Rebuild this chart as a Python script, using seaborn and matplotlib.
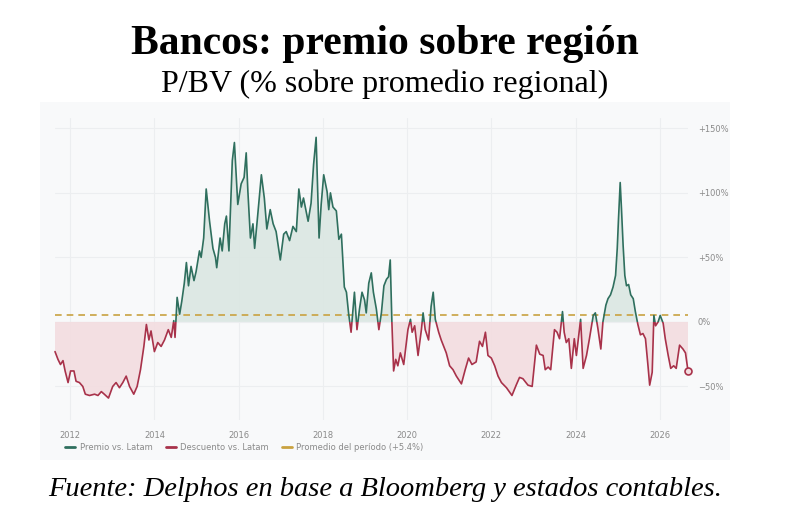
import numpy as np
import pandas as pd
import matplotlib
matplotlib.use('Agg')
import matplotlib.pyplot as plt
import seaborn as sns
from matplotlib.patches import Rectangle
from matplotlib.lines import Line2D

# datos (año decimal, prima % sobre promedio regional)
years = [2011.64, 2011.71, 2011.77, 2011.83, 2011.88, 2011.95, 2012.01, 2012.09, 2012.14, 2012.22,
         2012.30, 2012.36, 2012.46, 2012.58, 2012.66, 2012.74, 2012.81, 2012.91, 2013.01, 2013.09,
         2013.17, 2013.25, 2013.33, 2013.41, 2013.51, 2013.59, 2013.67, 2013.75, 2013.81, 2013.87,
         2013.92, 2014.00, 2014.08, 2014.16, 2014.24, 2014.33, 2014.40, 2014.46, 2014.49, 2014.54,
         2014.60, 2014.65, 2014.71, 2014.76, 2014.81, 2014.87, 2014.94, 2014.99, 2015.07, 2015.11,
         2015.17, 2015.23, 2015.31, 2015.39, 2015.45, 2015.48, 2015.56, 2015.61, 2015.67, 2015.71,
         2015.77, 2015.85, 2015.90, 2015.98, 2016.06, 2016.13, 2016.18, 2016.22, 2016.28, 2016.34,
         2016.38, 2016.44, 2016.54, 2016.61, 2016.67, 2016.75, 2016.82, 2016.89, 2016.99, 2017.07,
         2017.13, 2017.21, 2017.29, 2017.37, 2017.43, 2017.49, 2017.54, 2017.65, 2017.72, 2017.78,
         2017.84, 2017.91, 2017.96, 2018.02, 2018.10, 2018.14, 2018.18, 2018.24, 2018.32, 2018.38,
         2018.44, 2018.51, 2018.56, 2018.61, 2018.67, 2018.75, 2018.81, 2018.87, 2018.93, 2018.99,
         2019.03, 2019.09, 2019.15, 2019.20, 2019.27, 2019.33, 2019.39, 2019.45, 2019.51, 2019.56,
         2019.60, 2019.64, 2019.68, 2019.73, 2019.78, 2019.84, 2019.92, 2020.02, 2020.08, 2020.12,
         2020.18, 2020.26, 2020.34, 2020.38, 2020.43, 2020.51, 2020.57, 2020.62, 2020.67, 2020.75,
         2020.81, 2020.93, 2021.01, 2021.09, 2021.17, 2021.29, 2021.38, 2021.46, 2021.54, 2021.64,
         2021.72, 2021.79, 2021.86, 2021.92, 2022.00, 2022.08, 2022.16, 2022.24, 2022.36, 2022.49,
         2022.59, 2022.67, 2022.75, 2022.87, 2022.97, 2023.07, 2023.15, 2023.23, 2023.28, 2023.35,
         2023.41, 2023.50, 2023.56, 2023.62, 2023.69, 2023.73, 2023.78, 2023.84, 2023.90, 2023.97,
         2024.02, 2024.12, 2024.18, 2024.26, 2024.33, 2024.42, 2024.47, 2024.53, 2024.60, 2024.65,
         2024.72, 2024.77, 2024.83, 2024.89, 2024.95, 2024.99, 2025.02, 2025.06, 2025.09, 2025.13,
         2025.17, 2025.21, 2025.26, 2025.31, 2025.37, 2025.42, 2025.48, 2025.54, 2025.60, 2025.66,
         2025.72, 2025.76, 2025.82, 2025.86, 2025.90, 2025.96, 2026.01, 2026.08, 2026.13, 2026.20,
         2026.26, 2026.33, 2026.39, 2026.47, 2026.55, 2026.61, 2026.67]
premio = [-23, -29, -33, -30, -38, -47, -38, -38, -46, -47,
          -50, -56, -57, -56, -57, -54, -56, -59, -50, -47,
          -51, -47, -42, -50, -56, -50, -37, -19, -2, -14,
          -7, -23, -16, -19, -14, -6, -12, 1, -12, 19,
          6, 16, 30, 46, 28, 43, 32, 39, 55, 50,
          65, 103, 78, 57, 50, 42, 65, 55, 76, 82,
          55, 125, 139, 91, 107, 112, 131, 101, 65, 76,
          57, 78, 114, 96, 72, 87, 76, 70, 48, 68,
          70, 63, 74, 70, 103, 89, 96, 78, 92, 122,
          143, 65, 91, 114, 101, 87, 100, 89, 86, 64,
          68, 27, 23, 7, -8, 23, -6, 10, 23, 17,
          7, 30, 38, 23, 10, -6, 7, 28, 33, 35,
          48, -1, -38, -29, -34, -24, -33, -6, 2, -8,
          -3, -26, -6, 7, -6, -14, 12, 23, 2, -8,
          -14, -24, -34, -37, -42, -48, -37, -28, -33, -31,
          -15, -19, -8, -26, -28, -34, -42, -47, -51, -57,
          -49, -43, -44, -49, -50, -18, -25, -26, -37, -35,
          -37, -6, -8, -13, 8, -8, -16, -13, -36, -13,
          -26, 2, -36, -26, -13, 5, 7, -5, -21, 0,
          13, 18, 21, 27, 36, 57, 80, 108, 88, 59,
          36, 28, 29, 21, 18, 8, -2, -10, -9, -13,
          -34, -49, -39, 5, -3, 0, 5, -1, -13, -26,
          -36, -34, -36, -18, -21, -24, -38]
promedio = 5.4

series_labels = ['Premio vs. Latam', 'Descuento vs. Latam', 'Promedio del período (+5.4%)']
year_ticks = [2012, 2014, 2016, 2018, 2020, 2022, 2024, 2026]
pct_ticks = [150, 100, 50, 0, -50]
pct_labels = ['+150%', '+100%', '+50%', '0%', '−50%']

VERDE = '#2f6f5e'
VERDE_FILL = '#dbe7e2'
ROJO = '#a8324a'
ROJO_FILL = '#f3dde0'
DORADO = '#c9a240'
FONDO = '#f8f9fa'

sns.set_theme(style='white')
plt.rcParams['font.family'] = ['DejaVu Sans']

df = pd.DataFrame({'year': years, 'premio': premio})
x = df['year'].to_numpy()
y = df['premio'].to_numpy(dtype=float)

fig = plt.figure(figsize=(8, 5.19), dpi=100)
fondo = Rectangle((40 / 800, 1 - 460 / 519), 690 / 800, 358 / 519,
                  transform=fig.transFigure, facecolor=FONDO, edgecolor='none', zorder=-10)
fig.patches.append(fondo)

ax = fig.add_axes([55 / 800, 1 - 420 / 519, 633 / 800, 302 / 519])
ax.set_facecolor('none')
ax.set_xlim(x[0], x[-1])
ax.set_ylim(-76, 158)

# rellenos
ax.fill_between(x, 0, y, where=y >= 0, interpolate=True, color=VERDE_FILL, alpha=0.9, lw=0, zorder=1)
ax.fill_between(x, 0, y, where=y <= 0, interpolate=True, color=ROJO_FILL, alpha=0.9, lw=0, zorder=1)

# línea coloreada según signo (recorte arriba/abajo de 0)
sns.lineplot(data=df, x='year', y='premio', ax=ax, color=VERDE, lw=1.2, zorder=3)
sns.lineplot(data=df, x='year', y='premio', ax=ax, color=ROJO, lw=1.2, zorder=3)
arriba = Rectangle((x[0] - 1, 0), 30, 300, transform=ax.transData)
abajo = Rectangle((x[0] - 1, -300), 30, 300, transform=ax.transData)
ax.lines[0].set_clip_path(arriba)
ax.lines[1].set_clip_path(abajo)

ax.plot(x[-1], y[-1], 'o', ms=5, mfc=ROJO_FILL, mec=ROJO, mew=1.2, zorder=4, clip_on=False)
ax.axhline(promedio, color=DORADO, ls=(0, (4, 3)), lw=1.2, zorder=2)

ax.set_xticks(year_ticks)
ax.set_xticklabels([str(t) for t in year_ticks])
ax.set_yticks(pct_ticks)
ax.set_yticklabels(pct_labels)
ax.yaxis.tick_right()
ax.tick_params(axis='both', length=0, labelsize=6, colors='#8a8a8a')
ax.tick_params(axis='y', pad=7)
ax.tick_params(axis='x', pad=8)
ax.grid(True, color='#eceef0', lw=0.8)
ax.set_axisbelow(True)
for s in ax.spines.values():
    s.set_visible(False)
ax.set_xlabel('')
ax.set_ylabel('')

handles = [Line2D([], [], color=VERDE, lw=2),
           Line2D([], [], color=ROJO, lw=2),
           Line2D([], [], color=DORADO, lw=2)]
fig.legend(handles, series_labels, loc='center left', bbox_to_anchor=(58 / 800, 1 - 447 / 519),
           ncol=3, frameon=False, fontsize=6, labelcolor='#8a8a8a', handlelength=1.2,
           handletextpad=0.5, columnspacing=1.6)

fig.text(0.481, 1 - 44 / 519, 'Bancos: premio sobre región', ha='center', va='center',
         family='Liberation Serif', weight='bold', fontsize=30, color='black')
fig.text(0.481, 1 - 84 / 519, 'P/BV (% sobre promedio regional)', ha='center', va='center',
         family='Liberation Serif', fontsize=23, color='black')
fig.text(0.481, 1 - 489 / 519, 'Fuente: Delphos en base a Bloomberg y estados contables.',
         ha='center', va='center', family='Liberation Serif', style='italic', fontsize=20.5, color='black')

fig.savefig('out.png', dpi=100, facecolor='white')
